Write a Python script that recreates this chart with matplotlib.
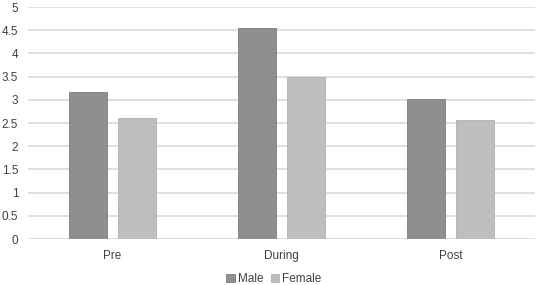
import matplotlib
matplotlib.use("Agg")
import matplotlib.pyplot as plt
import numpy as np

categories = ["Pre", "During", "Post"]
male = [3.17, 4.55, 3.02]
female = [2.61, 3.49, 2.56]
yticks = [0, 0.5, 1, 1.5, 2, 2.5, 3, 3.5, 4, 4.5, 5]
ytick_labels = ["0", "0.5", "1", "1.5", "2", "2.5", "3", "3.5", "4", "4.5", "5"]

plt.rcParams['font.family'] = ['Liberation Sans', 'DejaVu Sans']

fig = plt.figure(figsize=(5.36, 2.85), dpi=100)
ax = fig.add_axes([28/536, 1-239/285, 507/536, 232/285])

x = np.arange(len(categories))
w = 0.225
off = 0.1425
ax.bar(x - off, male, w, color="#8f8f8f", edgecolor="#7d7d7d", linewidth=0.6, label="Male", zorder=3)
ax.bar(x + off, female, w, color="#bebebe", edgecolor="#b0b0b0", linewidth=0.6, label="Female", zorder=3)

ax.set_xlim(-0.5, 2.5)
ax.set_ylim(0, 5)
ax.set_yticks(yticks)
ax.set_yticklabels(ytick_labels)
ax.set_xticks(x)
ax.set_xticklabels(categories)
ax.yaxis.grid(True, color="#d9d9d9", linewidth=1.2, zorder=0)
for s in ax.spines.values():
    s.set_visible(False)
ax.tick_params(axis='both', length=0, labelsize=8.5, colors="#404040")
ax.tick_params(axis='y', pad=7)
ax.tick_params(axis='x', pad=8)

fig.legend(loc="center", bbox_to_anchor=(274/536, 6/285), ncol=2, frameon=False,
           fontsize=8.5, handlelength=0.7, handleheight=0.7, handletextpad=0.3,
           columnspacing=0.6, labelcolor="#404040")

fig.savefig("out.png", dpi=100)
